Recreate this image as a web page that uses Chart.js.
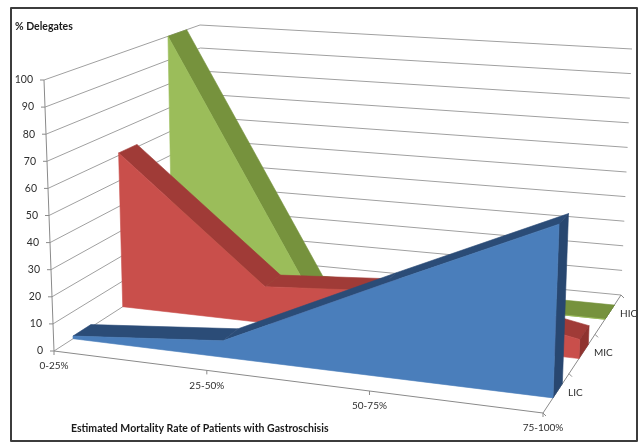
<!DOCTYPE html>
<html>
<head>
<meta charset="utf-8">
<script src="https://cdn.jsdelivr.net/npm/chart.js@4.4.1/dist/chart.umd.min.js"></script>
<style>
  html, body { margin: 0; padding: 0; background: #ffffff; }
  #wrap { width: 641px; height: 446px; }
</style>
</head>
<body>
<div id="wrap"><canvas id="chart" width="641" height="446"></canvas></div>
<script>
// Mortality-rate bands (category axis)
const categories = ['0-25%', '25-50%', '50-75%', '75-100%'];
// Income groups, front to back (series axis)
const seriesNames = ['LIC', 'MIC', 'HIC'];
// % of delegates per band
const licValues = [1, 6, 33, 60];
const micValues = [61, 14, 18, 7];
const hicValues = [100, 0, 0, 0];
// Value axis
const valueMin = 0;
const valueMax = 100;
const valueStep = 10;
const valueTitle = '% Delegates';
const categoryTitle = 'Estimated Mortality Rate of Patients with Gastroschisis';

const palette = {
  LIC: { front: '#4a7ebb', top: '#2b4c77', end: '#284770' },
  MIC: { front: '#c94f4b', top: '#a03b37', end: '#8f332f' },
  HIC: { front: '#9bbd5a', top: '#76923d', end: '#6c8837' }
};

const FONT = 'Lato, "Open Sans", "Liberation Sans", sans-serif';

// Perspective box: corners of the 3D plot volume expressed relative to the chart area.
function makeProjector(ca) {
  const L = ca.left, R = ca.right, T = ca.top, B = ca.bottom;
  const FL0 = [L + 10, B],      FL1 = [L, T];
  const FR0 = [R, B + 62],      FR1 = [R + 10, T + 37];
  const BL0 = [L + 159, B - 96], BL1 = [L + 156, T - 55];
  const BR0 = [R + 78, B - 56],  BR1 = [R + 89, T - 31];
  const bil = (a, b, c, d, u, w) => [
    (a[0] * (1 - u) + b[0] * u) * (1 - w) + (c[0] * (1 - u) + d[0] * u) * w,
    (a[1] * (1 - u) + b[1] * u) * (1 - w) + (c[1] * (1 - u) + d[1] * u) * w
  ];
  return function (u, v, w) {
    const f = bil(FL0, FR0, BL0, BR0, u, w);
    const t = bil(FL1, FR1, BL1, BR1, u, w);
    return [f[0] + (t[0] - f[0]) * v, f[1] + (t[1] - f[1]) * v];
  };
}

// Category position (from the x scale) with foreshortening toward the far side.
function depthU(ca, px) {
  const s = (px - ca.left) / (ca.right - ca.left);
  const k = 1.1;
  return s / (s + k * (1 - s));
}
function heightV(ca, py) {
  return (ca.bottom - py) / (ca.bottom - ca.top);
}

function poly(ctx, pts, fill) {
  ctx.beginPath();
  ctx.moveTo(pts[0][0], pts[0][1]);
  for (let i = 1; i < pts.length; i++) ctx.lineTo(pts[i][0], pts[i][1]);
  ctx.closePath();
  ctx.fillStyle = fill;
  ctx.fill();
  ctx.strokeStyle = fill;
  ctx.lineWidth = 0.6;
  ctx.stroke();
}
function line(ctx, a, b, color, width) {
  ctx.beginPath();
  ctx.moveTo(a[0], a[1]);
  ctx.lineTo(b[0], b[1]);
  ctx.strokeStyle = color;
  ctx.lineWidth = width || 1;
  ctx.stroke();
}

const area3d = {
  id: 'area3d',
  afterDatasetsDraw(chart) {
    const ctx = chart.ctx;
    const ca = chart.chartArea;
    const P = makeProjector(ca);
    const yScale = chart.scales.y;
    const xScale = chart.scales.x;
    const slot = 1 / seriesNames.length;

    ctx.save();

    // wall gridlines (left wall and back wall)
    yScale.ticks.forEach(t => {
      const v = heightV(ca, yScale.getPixelForValue(t.value));
      const a = P(0, v, 0), b = P(0, v, 1), c = P(1, v, 1);
      ctx.beginPath();
      ctx.moveTo(a[0], a[1]);
      ctx.lineTo(b[0], b[1]);
      ctx.lineTo(c[0], c[1]);
      ctx.strokeStyle = '#a0a0a0';
      ctx.lineWidth = 1;
      ctx.lineJoin = 'round';
      ctx.stroke();
    });

    // axis edges
    const axisColor = '#8a8a8a';
    line(ctx, P(0, 0, 0), P(0, 1, 0), axisColor);
    line(ctx, P(0, 0, 0), P(1, 0, 0), axisColor);
    line(ctx, P(1, 0, 0), P(1, 0, 1), axisColor);

    // value ticks and labels
    ctx.font = '10.5px ' + FONT;
    ctx.fillStyle = '#2e2e2e';
    ctx.textAlign = 'right';
    ctx.textBaseline = 'middle';
    yScale.ticks.forEach(t => {
      const v = heightV(ca, yScale.getPixelForValue(t.value));
      const p = P(0, v, 0);
      line(ctx, [p[0] - 4, p[1]], p, axisColor);
      ctx.fillStyle = '#2e2e2e';
      ctx.fillText(String(t.value), p[0] - 11, p[1]);
    });

    // category ticks and labels along the front floor edge
    ctx.font = '10px ' + FONT;
    ctx.textAlign = 'center';
    categories.forEach((cat, i) => {
      const u = depthU(ca, xScale.getPixelForValue(i));
      const p = P(u, 0, 0);
      line(ctx, p, [p[0], p[1] + 4], axisColor);
      ctx.fillStyle = '#2e2e2e';
      ctx.fillText(cat, p[0], p[1] + 15);
    });

    // series ticks and labels along the right floor edge
    ctx.textAlign = 'left';
    for (let k = 0; k <= seriesNames.length; k++) {
      const p = P(1, 0, k * slot);
      line(ctx, p, [p[0] + 3, p[1] + 3], axisColor);
    }
    seriesNames.forEach((name, k) => {
      const p = P(1, 0, (k + 0.5) * slot);
      ctx.fillStyle = '#2e2e2e';
      ctx.fillText(name, p[0] + 12, p[1] - 1);
    });

    // ribbons, back to front
    for (let s = chart.data.datasets.length - 1; s >= 0; s--) {
      const ds = chart.data.datasets[s];
      const meta = chart.getDatasetMeta(s);
      const col = palette[ds.label];
      const w0 = s * slot + 0.128, w1 = s * slot + 0.248;
      const pts = meta.data.map(el => [depthU(ca, el.x), heightV(ca, el.y)]);
      const n = pts.length;

      for (let i = 0; i < n - 1; i++) {
        const [ua, va] = pts[i], [ub, vb] = pts[i + 1];
        poly(ctx, [P(ua, va, w0), P(ub, vb, w0), P(ub, vb, w1), P(ua, va, w1)], col.top);
      }
      const [ue, ve] = pts[n - 1];
      poly(ctx, [P(ue, 0, w0), P(ue, ve, w0), P(ue, ve, w1), P(ue, 0, w1)], col.end);

      const front = [P(pts[0][0], 0, w0)];
      pts.forEach(([u, v]) => front.push(P(u, v, w0)));
      front.push(P(ue, 0, w0));
      poly(ctx, front, col.front);
    }

    // titles
    ctx.fillStyle = '#1a1a1a';
    ctx.textAlign = 'left';
    ctx.textBaseline = 'middle';
    ctx.font = 'bold 10.5px ' + FONT;
    ctx.fillText(valueTitle, 15, 27);
    ctx.fillText(categoryTitle, 71, 429);

    // frame
    ctx.strokeStyle = '#3c3c3c';
    ctx.lineWidth = 2;
    ctx.strokeRect(11, 8, 626, 433);

    ctx.restore();
  }
};

const datasets = [
  { label: seriesNames[0], data: licValues },
  { label: seriesNames[1], data: micValues },
  { label: seriesNames[2], data: hicValues }
].map(d => Object.assign(d, {
  showLine: false, pointRadius: 0, pointHoverRadius: 0, borderWidth: 0,
  backgroundColor: 'transparent', borderColor: 'transparent'
}));

new Chart(document.getElementById('chart'), {
  type: 'line',
  data: { labels: categories, datasets },
  options: {
    responsive: false,
    animation: false,
    events: [],
    layout: { padding: { left: 44, right: 98, top: 80, bottom: 95 } },
    scales: {
      x: { type: 'category', display: false, offset: false },
      y: { type: 'linear', display: false, min: valueMin, max: valueMax, ticks: { stepSize: valueStep } }
    },
    plugins: { legend: { display: false }, tooltip: { enabled: false } }
  },
  plugins: [area3d]
});
</script>
</body>
</html>
